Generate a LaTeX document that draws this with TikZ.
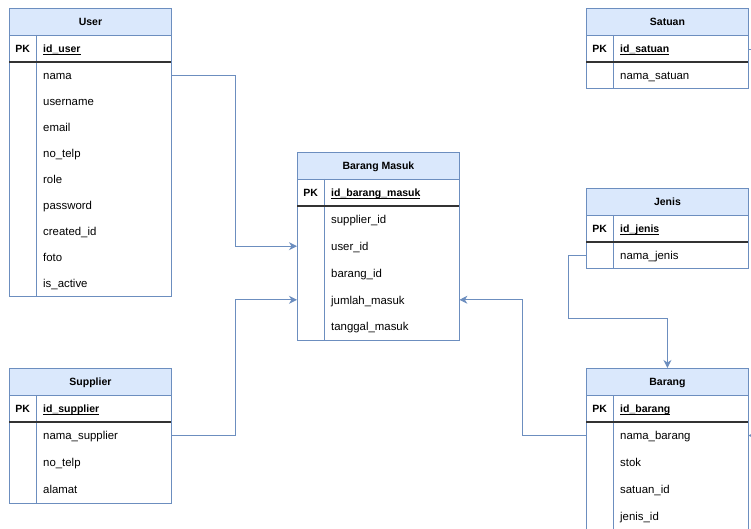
\documentclass[tikz,border=0pt]{standalone}
\usepackage{fontspec}
\setmainfont{Liberation Sans}
\usepackage{xcolor}
\usepackage{tikz}
\usetikzlibrary{positioning,calc,arrows.meta}

\definecolor{erhead}{HTML}{DAE8FC}
\definecolor{erblue}{HTML}{6C8EBF}
\definecolor{erkey}{HTML}{333333}

\newcommand{\keyname}[1]{\underline{\smash{#1}}}

\tikzset{
	head/.style={draw=erblue, line width=0.9pt, fill=erhead, anchor=north west, minimum width=162pt, minimum height=27pt, inner sep=0pt, text height=8.6pt, text depth=1.4pt, font=\bfseries\fontsize{10.5}{12}\selectfont},
	keyrow/.style={anchor=west, text width=162pt, inner sep=0pt, text height=8.6pt, text depth=1.4pt, align=left, font=\bfseries\fontsize{10.5}{12}\selectfont},
	field/.style={anchor=west, text width=162pt, inner sep=0pt, text height=9.6pt, text depth=1.2pt, align=left, font=\fontsize{11.4}{13}\selectfont},
	pk/.style={inner sep=0pt, text height=8.6pt, text depth=1.4pt, font=\bfseries\fontsize{10.5}{12}\selectfont},
	border/.style={draw=erblue, line width=0.9pt},
	keyline/.style={draw=erkey, line width=1.4pt},
	link/.style={draw=erblue, line width=0.9pt, -{Stealth[length=8pt,width=8pt,inset=2.5pt]}},
}

\begin{document}
\begin{tikzpicture}[x=1pt,y=-1pt]
								\fill[white] (0,0) rectangle (751,529);
								\useasboundingbox (0,0) rectangle (751,529);
								\clip (0,0) rectangle (751,529);
								\def\tw{162}
								% outer box, key column, line under the key row
								\def\erframe#1#2#3{
									\draw[border] (#1,#2) rectangle (#1+\tw,#3);
									\draw[border] (#1+27.5,#2+27) -- (#1+27.5,#3);
									\draw[keyline] (#1,#2+54) -- (#1+\tw,#2+54);
								}
								
								% User
								\node[head] (user) at (9,8) {User};
								\node[keyrow] (user-pk) at (9,49) {\hspace*{34pt}\keyname{id\_user}};
								\node[pk] (user-pklabel) at (22.75,49) {PK};
								\foreach \txt [count=\i] in {nama,username,email,no\_telp,role,password,created\_id,foto,is\_active}
									\node[field] (user-\i) at (9,{62+26*(\i-0.5)}) {\hspace*{34pt}\txt};
								\erframe{9}{8}{296}
								
								% Supplier
								\node[head] (supplier) at (9,368) {Supplier};
								\node[keyrow] (supplier-pk) at (9,409) {\hspace*{34pt}\keyname{id\_supplier}};
								\node[pk] (supplier-pklabel) at (22.75,409) {PK};
								\foreach \txt [count=\i] in {nama\_supplier,no\_telp,alamat}
									\node[field] (supplier-\i) at (9,{422+27*(\i-0.5)}) {\hspace*{34pt}\txt};
								\erframe{9}{368}{503}
								
								% Barang Masuk
								\node[head] (masuk) at (297,152) {Barang Masuk};
								\node[keyrow] (masuk-pk) at (297,193) {\hspace*{34pt}\keyname{id\_barang\_masuk}};
								\node[pk] (masuk-pklabel) at (310.75,193) {PK};
								\foreach \txt [count=\i] in {supplier\_id,user\_id,barang\_id,jumlah\_masuk,tanggal\_masuk}
									\node[field] (masuk-\i) at (297,{206+26.8*(\i-0.5)}) {\hspace*{34pt}\txt};
								\erframe{297}{152}{340}
								
								% Satuan
								\node[head] (satuan) at (586,8) {Satuan};
								\node[keyrow] (satuan-pk) at (586,49) {\hspace*{34pt}\keyname{id\_satuan}};
								\node[pk] (satuan-pklabel) at (599.75,49) {PK};
								\node[field] (satuan-1) at (586,75) {\hspace*{34pt}nama\_satuan};
								\erframe{586}{8}{88}
								
								% Jenis
								\node[head] (jenis) at (586,188) {Jenis};
								\node[keyrow] (jenis-pk) at (586,229) {\hspace*{34pt}\keyname{id\_jenis}};
								\node[pk] (jenis-pklabel) at (599.75,229) {PK};
								\node[field] (jenis-1) at (586,255) {\hspace*{34pt}nama\_jenis};
								\erframe{586}{188}{268}
								
								% Barang (runs on below the page)
								\node[head] (barang) at (586,368) {Barang};
								\node[keyrow] (barang-pk) at (586,409) {\hspace*{34pt}\keyname{id\_barang}};
								\node[pk] (barang-pklabel) at (599.75,409) {PK};
								\foreach \txt [count=\i] in {nama\_barang,stok,satuan\_id,jenis\_id}
									\node[field] (barang-\i) at (586,{422+27*(\i-0.5)}) {\hspace*{34pt}\txt};
								\erframe{586}{368}{560}
								
								% relations
								\draw[link] (user-1.east) -- ++(64,0) |- (masuk-2.west);
								\draw[link] (supplier-1.east) -- ++(64,0) |- (masuk-4.west);
								\draw[link] (barang-1.west) -- ++(-63.5,0) |- (masuk-4.east);
								\draw[link] (jenis-1.west) -- ++(-18,0) -- ++(0,63) -| (barang.north);
								
								% ends cut by the page edge
								\coordinate (satuan-out) at (770,49);
								\coordinate (barang-out) at (770,435.5);
								\draw[border] (satuan-pk.east) -- (satuan-out);
								\draw[link] (barang-out) -- (barang-1.east);
							\end{tikzpicture}
\end{document}
